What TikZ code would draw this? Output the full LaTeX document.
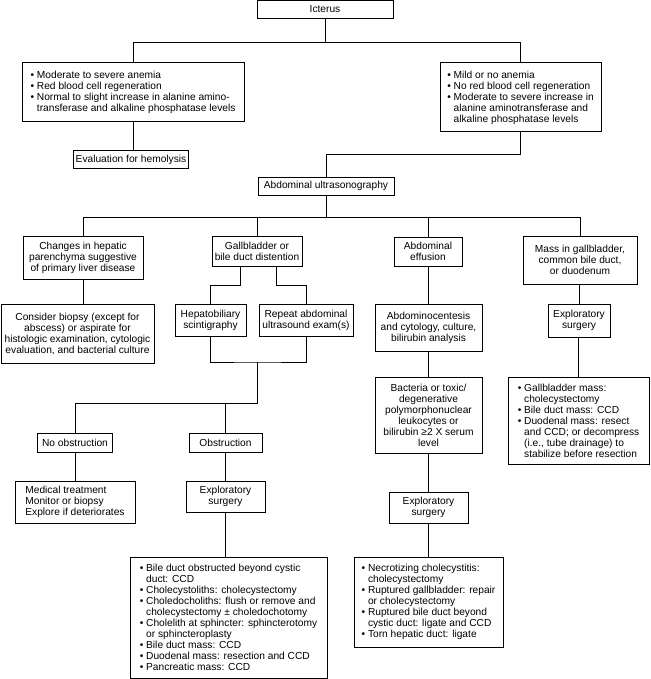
\documentclass[tikz,border=0pt]{standalone}
\usepackage{fontspec}
\setmainfont{Liberation Sans}
\usepackage{tikz}
\usetikzlibrary{calc,positioning}

\newcommand{\bl}{\textbullet\ }
\newcommand{\hg}{\hphantom{\textbullet\ }}

\begin{document}
\begin{tikzpicture}[x=1pt,y=-1pt,line width=1pt,
    box/.style={draw,inner sep=2pt,align=center,font=\fontsize{10.2}{11}\selectfont},
    lst/.style={box,align=left},
    sz/.style 2 args={minimum width=#1pt,minimum height=#2pt}]
  \useasboundingbox (0,0) rectangle (650,679);
  % ---------- top: icterus and anemia ----------
  \node[box,sz={136}{18}] (ict) at (325,9.5) {Icterus};
  \node[lst,sz={222}{59}] (lft) at (133,92.5) {\bl Moderate to severe anemia\\ \bl Red blood cell regeneration\\ \bl Normal to slight increase in alanine amino-\\ \hg transferase and alkaline phosphatase levels};
  \node[lst,sz={161}{69}] (rgt) at (520.5,97.5) {\bl Mild or no anemia\\ \bl No red blood cell regeneration\\ \bl Moderate to severe increase in\\ \hg alanine aminotransferase and\\ \hg alkaline phosphatase levels};
  \node[box,sz={115}{18}] (hemo) at (131,160) {Evaluation for hemolysis};
  \node[box,sz={136}{18}] (aus) at (326,186) {Abdominal ultrasonography};
  \coordinate (j1) at (325,43);
  \coordinate (j2) at (326,155);
  \draw (ict.south) -- (j1) -| (lft.north);
  \draw (j1) -| (rgt.north);
  \draw (lft.south) -- (lft.south |- hemo.north);
  \draw (rgt.south) |- (j2) -- (aus.north);
  % ---------- ultrasonography findings ----------
  \node[box,sz={120}{43}] (chg) at (83,257.5) {Changes in hepatic\\ parenchyma suggestive\\ of primary liver disease};
  \node[box,sz={90}{30}] (gbd) at (257,251) {Gallbladder or\\ bile duct distention};
  \node[box,sz={68}{29}] (eff) at (428,251.5) {Abdominal\\ effusion};
  \node[box,sz={114}{48}] (mass) at (580,260) {Mass in gallbladder,\\ common bile duct,\\ or duodenum};
  \coordinate (j3) at (326,217);
  \draw (aus.south) -- (j3);
  \draw (j3) -| (chg.north);
  \draw (j3) -| (gbd.north);
  \draw (j3) -| (eff.north);
  \draw (j3) -| (mass.north);
  % ---------- second row ----------
  \node[box,sz={153}{59}] (bio) at (77.5,333.5) {Consider biopsy (except for\\ abscess) or aspirate for\\ histologic examination, cytologic\\ evaluation, and bacterial culture};
  \node[box,sz={71}{32}] (hep) at (210.5,320) {Hepatobiliary\\ scintigraphy};
  \node[box,sz={94}{32}] (rep) at (306,320) {Repeat abdominal\\ ultrasound exam(s)};
  \node[box,sz={107}{47}] (abc) at (428.5,327.5) {Abdominocentesis\\ and cytology, culture,\\ bilirubin analysis};
  \node[box,sz={62}{33}] (exp3) at (579,320.5) {Exploratory\\ surgery};
  \draw (chg.south) -- (chg.south |- bio.north);
  \draw ([xshift=-17pt]gbd.south) -- ++(0,-19pt) -| (hep.north);
  \draw ([xshift=19pt]gbd.south) -- ++(0,-19pt) -| (rep.north);
  \draw (eff.south -| abc.north) -- (abc.north);
  \draw (mass.south -| exp3.north) -- (exp3.north);
  % ---------- obstruction branch ----------
  \coordinate (j4) at (257,362);
  \coordinate (j5) at (257,403);
  \node[box,sz={75}{19}] (noob) at (75,442.5) {No obstruction};
  \node[box,sz={73}{19}] (obs) at (225.5,442.5) {Obstruction};
  \node[lst,sz={120}{42}] (med) at (75,502) {Medical treatment\\ Monitor or biopsy\\ Explore if deteriorates};
  \node[box,sz={79}{31}] (exp1) at (225.5,496.5) {Exploratory\\ surgery};
  \node[lst,sz={197}{121}] (big) at (228.5,617.5) {\bl Bile duct obstructed beyond cystic\\ \hg duct: CCD\\ \bl Cholecystoliths: cholecystectomy\\ \bl Choledocholiths: flush or remove and\\ \hg cholecystectomy ± choledochotomy\\ \bl Cholelith at sphincter: sphincterotomy\\ \hg or sphincteroplasty\\ \bl Bile duct mass: CCD\\ \bl Duodenal mass: resection and CCD\\ \bl Pancreatic mass: CCD};
  \draw (hep.south) |- (j4) -| (rep.south);
  \draw (j4) -- (j5) -| (noob.north);
  \draw (j5) -| (obs.north);
  \draw (noob.south) -- (noob.south |- med.north);
  \draw (obs.south) -- (obs.south |- exp1.north);
  \draw (exp1.south) -- (exp1.south |- big.north);
  % ---------- effusion and mass branches ----------
  \node[box,sz={107}{76}] (bac) at (428.5,415) {Bacteria or toxic/\\ degenerative\\ polymorphonuclear\\ leukocytes or\\ bilirubin ≥2 X serum\\ level};
  \node[box,sz={79}{31}] (exp2) at (428.5,507.5) {Exploratory\\ surgery};
  \node[lst,sz={149}{90}] (brt) at (428.5,602) {\bl Necrotizing cholecystitis:\\ \hg cholecystectomy\\ \bl Ruptured gallbladder: repair\\ \hg or cholecystectomy\\ \bl Ruptured bile duct beyond\\ \hg cystic duct: ligate and CCD\\ \bl Torn hepatic duct: ligate};
  \node[lst,sz={141}{87}] (gbm) at (578.5,420.5) {\bl Gallbladder mass:\\ \hg cholecystectomy\\ \bl Bile duct mass: CCD\\ \bl Duodenal mass: resect\\ \hg and CCD; or decompress\\ \hg (i.e., tube drainage) to\\ \hg stabilize before resection};
  \draw (abc) -- (bac);
  \draw (bac) -- (exp2);
  \draw (exp2) -- (brt);
  \draw (exp3.south -| gbm.north) -- (gbm.north);
\end{tikzpicture}
\end{document}
